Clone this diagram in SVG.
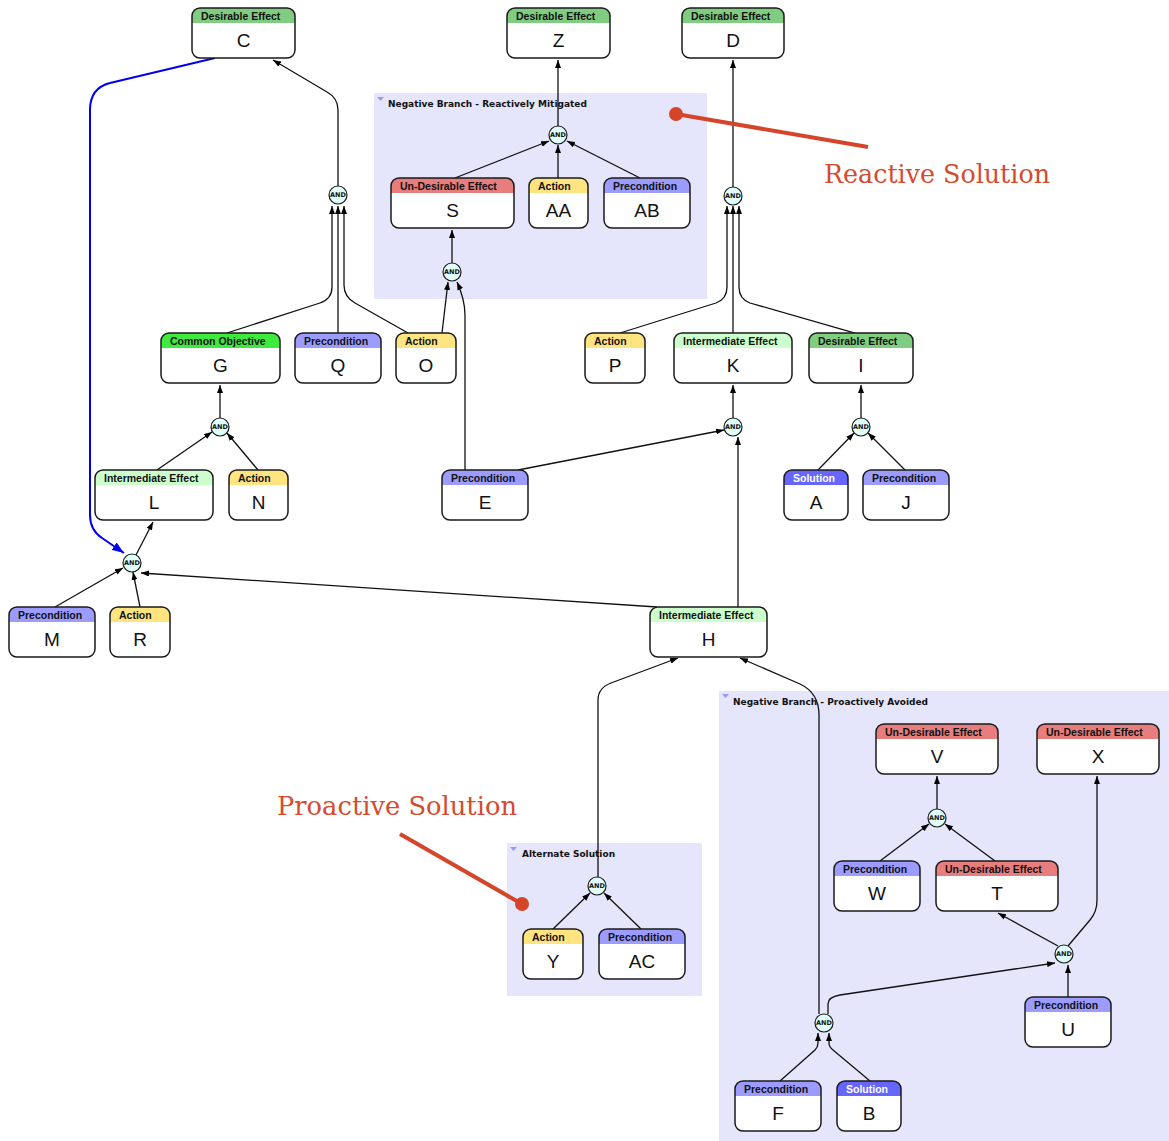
<svg xmlns="http://www.w3.org/2000/svg" width="1169" height="1141" viewBox="0 0 1169 1141">
<defs>
<marker id="arr" markerUnits="userSpaceOnUse" markerWidth="8" markerHeight="6" refX="8" refY="3" orient="auto"><path d="M0,0 L8,3 L0,6 Z" fill="#000"/></marker>
<marker id="barr" markerUnits="userSpaceOnUse" markerWidth="12" markerHeight="9" refX="12" refY="4.5" orient="auto"><path d="M0,0 L12,4.5 L0,9 Z" fill="#0000ee"/></marker>
<style>
.grp{fill:#e5e5fb}
.gl{font-family:"DejaVu Sans","Liberation Sans",sans-serif;font-weight:bold;font-size:9px;fill:#111}
.tri{fill:#9a9af0}
.box{fill:#fff}
.out{fill:none;stroke:#1a1a1a;stroke-width:1.5}
.ht{font-family:"Liberation Sans",Arial,sans-serif;font-weight:bold;font-size:10.5px;fill:#111}
.hw{fill:#fff}
.lt{font-family:"Liberation Sans",Arial,sans-serif;font-size:19px;fill:#111;text-anchor:middle}
.de{fill:#80cc80}.ud{fill:#e87d7d}.ac{fill:#ffe47f}.pr{fill:#9c9cff}.co{fill:#3eea3e}.ie{fill:#ccffcc}.so{fill:#6666ff}
.and circle{fill:#e0fffb;stroke:#1a1a1a;stroke-width:1.2}
.and text{font-family:"DejaVu Sans","Liberation Sans",sans-serif;font-weight:bold;font-size:6.5px;fill:#111;text-anchor:middle}
.e{fill:none;stroke:#111;stroke-width:1.3;marker-end:url(#arr)}
.be{fill:none;stroke:#0000ee;stroke-width:2;marker-end:url(#barr)}
.ann{font-family:"DejaVu Serif","Liberation Serif",serif;font-size:26px;fill:#d64a2e}
.rl{stroke:#d4452a;stroke-width:4;fill:none}
.rd{fill:#d4452a}
</style>
</defs>
<rect width="1169" height="1141" fill="#fff"/>

<g id="group-reactive">
<rect class="grp" x="374" y="93" width="333" height="206"/>
<path class="tri" d="M377,97 H384 L380.5,101 Z"/>
<text class="gl" x="388" y="107">Negative Branch - Reactively Mitigated</text>
</g>
<g id="group-alternate">
<rect class="grp" x="507" y="843" width="195" height="153"/>
<path class="tri" d="M510,847 H517 L513.5,851 Z"/>
<text class="gl" x="522" y="857">Alternate Solution</text>
</g>
<g id="group-proactive">
<rect class="grp" x="719" y="691" width="450" height="450"/>
<path class="tri" d="M722,694 H729 L725.5,698 Z"/>
<text class="gl" x="733" y="705">Negative Branch - Proactively Avoided</text>
</g>

<g id="connectors">
<path class="e" d="M338,186 L338,110 Q338,98 327,92 L273,60"/>
<path class="e" d="M227,333 L320,303 Q332,299 332,287 L332,206"/>
<path class="e" d="M338,333 L338,206"/>
<path class="e" d="M408,333 L355,303 Q344,297 344,285 L344,206"/>
<path class="e" d="M558,126 L558,60"/>
<path class="e" d="M455,178 L549,141"/>
<path class="e" d="M558,178 L558,145"/>
<path class="e" d="M640,178 L567,141"/>
<path class="e" d="M452,263 L452,230"/>
<path class="e" d="M442,333 L448,282"/>
<path class="e" d="M465,470 L465,315 Q465,300 457,282"/>
<path class="e" d="M733,187 L733,60"/>
<path class="e" d="M620,333 L716,303 Q727,299 727,287 L727,206"/>
<path class="e" d="M733,333 L733,206"/>
<path class="e" d="M855,333 L750,303 Q739,299 739,287 L739,206"/>
<path class="e" d="M220,418 L220,385"/>
<path class="e" d="M157,470 L212,432"/>
<path class="e" d="M258,470 L227,433"/>
<path class="e" d="M733,418 L733,385"/>
<path class="e" d="M518,470 L724,430"/>
<path class="e" d="M738,607 L738,437"/>
<path class="e" d="M861,418 L861,385"/>
<path class="e" d="M818,470 L854,433"/>
<path class="e" d="M905,470 L868,433"/>
<path class="e" d="M136,555 L153,522"/>
<path class="e" d="M55,607 L123,568"/>
<path class="e" d="M140,607 L133,572"/>
<path class="e" d="M657,607 L141,573"/>
<path class="be" d="M215,58 L110,83 Q90,88 90,110 L90,515 Q90,530 102,538 L124,553"/>
<path class="e" d="M598,877 L598,700 Q598,688 611,683 L678,658"/>
<path class="e" d="M819,1014 L819,715 Q819,693 800,684 L740,658"/>
<path class="e" d="M553,929 L590,893"/>
<path class="e" d="M641,929 L604,893"/>
<path class="e" d="M937,809 L937,776"/>
<path class="e" d="M880,861 L929,824"/>
<path class="e" d="M995,861 L945,824"/>
<path class="e" d="M1058,946 L998,913"/>
<path class="e" d="M1068,946 L1090,920 Q1097,912 1097,900 L1097,776"/>
<path class="e" d="M1068,997 L1068,965"/>
<path class="e" d="M828,1014 L828,1004 Q828,997 840,995 L1055,963"/>
<path class="e" d="M780,1081 L815,1050 Q818,1047 818,1043 L818,1033"/>
<path class="e" d="M870,1081 L833,1050 Q829,1047 829,1043 L829,1033"/>
</g>

<g id="and-C" class="and"><circle cx="338" cy="195" r="9"/><text x="338" y="197.3">AND</text></g>
<g id="and-Z" class="and"><circle cx="558" cy="135" r="9"/><text x="558" y="137.3">AND</text></g>
<g id="and-S" class="and"><circle cx="452" cy="272" r="9"/><text x="452" y="274.3">AND</text></g>
<g id="and-D" class="and"><circle cx="733" cy="196" r="9"/><text x="733" y="198.3">AND</text></g>
<g id="and-G" class="and"><circle cx="220" cy="427" r="9"/><text x="220" y="429.3">AND</text></g>
<g id="and-K" class="and"><circle cx="733" cy="427" r="9"/><text x="733" y="429.3">AND</text></g>
<g id="and-I" class="and"><circle cx="861" cy="427" r="9"/><text x="861" y="429.3">AND</text></g>
<g id="and-L" class="and"><circle cx="132" cy="563" r="9"/><text x="132" y="565.3">AND</text></g>
<g id="and-H" class="and"><circle cx="597" cy="886" r="9"/><text x="597" y="888.3">AND</text></g>
<g id="and-V" class="and"><circle cx="937" cy="818" r="9"/><text x="937" y="820.3">AND</text></g>
<g id="and-TX" class="and"><circle cx="1064" cy="954" r="9"/><text x="1064" y="956.3">AND</text></g>
<g id="and-FB" class="and"><circle cx="824" cy="1023" r="9"/><text x="824" y="1025.3">AND</text></g>

<g id="node-C"><rect class="box" x="192" y="8" width="103" height="50" rx="8"/><path class="de" d="M192,23 V16 Q192,8 200,8 H287 Q295,8 295,16 V23 Z"/><rect class="out" x="192" y="8" width="103" height="50" rx="8"/><text class="ht" x="201" y="20">Desirable Effect</text><text class="lt" x="243.5" y="47">C</text></g>
<g id="node-Z"><rect class="box" x="507" y="8" width="103" height="50" rx="8"/><path class="de" d="M507,23 V16 Q507,8 515,8 H602 Q610,8 610,16 V23 Z"/><rect class="out" x="507" y="8" width="103" height="50" rx="8"/><text class="ht" x="516" y="20">Desirable Effect</text><text class="lt" x="558.5" y="47">Z</text></g>
<g id="node-D"><rect class="box" x="682" y="8" width="102" height="50" rx="8"/><path class="de" d="M682,23 V16 Q682,8 690,8 H776 Q784,8 784,16 V23 Z"/><rect class="out" x="682" y="8" width="102" height="50" rx="8"/><text class="ht" x="691" y="20">Desirable Effect</text><text class="lt" x="733" y="47">D</text></g>
<g id="node-S"><rect class="box" x="391" y="178" width="123" height="50" rx="8"/><path class="ud" d="M391,193 V186 Q391,178 399,178 H506 Q514,178 514,186 V193 Z"/><rect class="out" x="391" y="178" width="123" height="50" rx="8"/><text class="ht" x="400" y="190">Un-Desirable Effect</text><text class="lt" x="452.5" y="217">S</text></g>
<g id="node-AA"><rect class="box" x="529" y="178" width="59" height="50" rx="8"/><path class="ac" d="M529,193 V186 Q529,178 537,178 H580 Q588,178 588,186 V193 Z"/><rect class="out" x="529" y="178" width="59" height="50" rx="8"/><text class="ht" x="538" y="190">Action</text><text class="lt" x="558.5" y="217">AA</text></g>
<g id="node-AB"><rect class="box" x="604" y="178" width="86" height="50" rx="8"/><path class="pr" d="M604,193 V186 Q604,178 612,178 H682 Q690,178 690,186 V193 Z"/><rect class="out" x="604" y="178" width="86" height="50" rx="8"/><text class="ht" x="613" y="190">Precondition</text><text class="lt" x="647" y="217">AB</text></g>
<g id="node-G"><rect class="box" x="161" y="333" width="119" height="50" rx="8"/><path class="co" d="M161,348 V341 Q161,333 169,333 H272 Q280,333 280,341 V348 Z"/><rect class="out" x="161" y="333" width="119" height="50" rx="8"/><text class="ht" x="170" y="345">Common Objective</text><text class="lt" x="220.5" y="372">G</text></g>
<g id="node-Q"><rect class="box" x="295" y="333" width="86" height="50" rx="8"/><path class="pr" d="M295,348 V341 Q295,333 303,333 H373 Q381,333 381,341 V348 Z"/><rect class="out" x="295" y="333" width="86" height="50" rx="8"/><text class="ht" x="304" y="345">Precondition</text><text class="lt" x="338" y="372">Q</text></g>
<g id="node-O"><rect class="box" x="396" y="333" width="60" height="50" rx="8"/><path class="ac" d="M396,348 V341 Q396,333 404,333 H448 Q456,333 456,341 V348 Z"/><rect class="out" x="396" y="333" width="60" height="50" rx="8"/><text class="ht" x="405" y="345">Action</text><text class="lt" x="426" y="372">O</text></g>
<g id="node-P"><rect class="box" x="585" y="333" width="60" height="50" rx="8"/><path class="ac" d="M585,348 V341 Q585,333 593,333 H637 Q645,333 645,341 V348 Z"/><rect class="out" x="585" y="333" width="60" height="50" rx="8"/><text class="ht" x="594" y="345">Action</text><text class="lt" x="615" y="372">P</text></g>
<g id="node-K"><rect class="box" x="674" y="333" width="118" height="50" rx="8"/><path class="ie" d="M674,348 V341 Q674,333 682,333 H784 Q792,333 792,341 V348 Z"/><rect class="out" x="674" y="333" width="118" height="50" rx="8"/><text class="ht" x="683" y="345">Intermediate Effect</text><text class="lt" x="733" y="372">K</text></g>
<g id="node-I"><rect class="box" x="809" y="333" width="104" height="50" rx="8"/><path class="de" d="M809,348 V341 Q809,333 817,333 H905 Q913,333 913,341 V348 Z"/><rect class="out" x="809" y="333" width="104" height="50" rx="8"/><text class="ht" x="818" y="345">Desirable Effect</text><text class="lt" x="861" y="372">I</text></g>
<g id="node-L"><rect class="box" x="95" y="470" width="118" height="50" rx="8"/><path class="ie" d="M95,485 V478 Q95,470 103,470 H205 Q213,470 213,478 V485 Z"/><rect class="out" x="95" y="470" width="118" height="50" rx="8"/><text class="ht" x="104" y="482">Intermediate Effect</text><text class="lt" x="154" y="509">L</text></g>
<g id="node-N"><rect class="box" x="229" y="470" width="59" height="50" rx="8"/><path class="ac" d="M229,485 V478 Q229,470 237,470 H280 Q288,470 288,478 V485 Z"/><rect class="out" x="229" y="470" width="59" height="50" rx="8"/><text class="ht" x="238" y="482">Action</text><text class="lt" x="258.5" y="509">N</text></g>
<g id="node-E"><rect class="box" x="442" y="470" width="86" height="50" rx="8"/><path class="pr" d="M442,485 V478 Q442,470 450,470 H520 Q528,470 528,478 V485 Z"/><rect class="out" x="442" y="470" width="86" height="50" rx="8"/><text class="ht" x="451" y="482">Precondition</text><text class="lt" x="485" y="509">E</text></g>
<g id="node-A"><rect class="box" x="784" y="470" width="64" height="50" rx="8"/><path class="so" d="M784,485 V478 Q784,470 792,470 H840 Q848,470 848,478 V485 Z"/><rect class="out" x="784" y="470" width="64" height="50" rx="8"/><text class="ht hw" x="793" y="482">Solution</text><text class="lt" x="816" y="509">A</text></g>
<g id="node-J"><rect class="box" x="863" y="470" width="86" height="50" rx="8"/><path class="pr" d="M863,485 V478 Q863,470 871,470 H941 Q949,470 949,478 V485 Z"/><rect class="out" x="863" y="470" width="86" height="50" rx="8"/><text class="ht" x="872" y="482">Precondition</text><text class="lt" x="906" y="509">J</text></g>
<g id="node-M"><rect class="box" x="9" y="607" width="86" height="50" rx="8"/><path class="pr" d="M9,622 V615 Q9,607 17,607 H87 Q95,607 95,615 V622 Z"/><rect class="out" x="9" y="607" width="86" height="50" rx="8"/><text class="ht" x="18" y="619">Precondition</text><text class="lt" x="52" y="646">M</text></g>
<g id="node-R"><rect class="box" x="110" y="607" width="60" height="50" rx="8"/><path class="ac" d="M110,622 V615 Q110,607 118,607 H162 Q170,607 170,615 V622 Z"/><rect class="out" x="110" y="607" width="60" height="50" rx="8"/><text class="ht" x="119" y="619">Action</text><text class="lt" x="140" y="646">R</text></g>
<g id="node-H"><rect class="box" x="650" y="607" width="117" height="50" rx="8"/><path class="ie" d="M650,622 V615 Q650,607 658,607 H759 Q767,607 767,615 V622 Z"/><rect class="out" x="650" y="607" width="117" height="50" rx="8"/><text class="ht" x="659" y="619">Intermediate Effect</text><text class="lt" x="708.5" y="646">H</text></g>
<g id="node-V"><rect class="box" x="876" y="724" width="122" height="50" rx="8"/><path class="ud" d="M876,739 V732 Q876,724 884,724 H990 Q998,724 998,732 V739 Z"/><rect class="out" x="876" y="724" width="122" height="50" rx="8"/><text class="ht" x="885" y="736">Un-Desirable Effect</text><text class="lt" x="937" y="763">V</text></g>
<g id="node-X"><rect class="box" x="1037" y="724" width="122" height="50" rx="8"/><path class="ud" d="M1037,739 V732 Q1037,724 1045,724 H1151 Q1159,724 1159,732 V739 Z"/><rect class="out" x="1037" y="724" width="122" height="50" rx="8"/><text class="ht" x="1046" y="736">Un-Desirable Effect</text><text class="lt" x="1098" y="763">X</text></g>
<g id="node-W"><rect class="box" x="834" y="861" width="86" height="50" rx="8"/><path class="pr" d="M834,876 V869 Q834,861 842,861 H912 Q920,861 920,869 V876 Z"/><rect class="out" x="834" y="861" width="86" height="50" rx="8"/><text class="ht" x="843" y="873">Precondition</text><text class="lt" x="877" y="900">W</text></g>
<g id="node-T"><rect class="box" x="936" y="861" width="122" height="50" rx="8"/><path class="ud" d="M936,876 V869 Q936,861 944,861 H1050 Q1058,861 1058,869 V876 Z"/><rect class="out" x="936" y="861" width="122" height="50" rx="8"/><text class="ht" x="945" y="873">Un-Desirable Effect</text><text class="lt" x="997" y="900">T</text></g>
<g id="node-Y"><rect class="box" x="523" y="929" width="60" height="50" rx="8"/><path class="ac" d="M523,944 V937 Q523,929 531,929 H575 Q583,929 583,937 V944 Z"/><rect class="out" x="523" y="929" width="60" height="50" rx="8"/><text class="ht" x="532" y="941">Action</text><text class="lt" x="553" y="968">Y</text></g>
<g id="node-AC"><rect class="box" x="599" y="929" width="86" height="50" rx="8"/><path class="pr" d="M599,944 V937 Q599,929 607,929 H677 Q685,929 685,937 V944 Z"/><rect class="out" x="599" y="929" width="86" height="50" rx="8"/><text class="ht" x="608" y="941">Precondition</text><text class="lt" x="642" y="968">AC</text></g>
<g id="node-U"><rect class="box" x="1025" y="997" width="86" height="50" rx="8"/><path class="pr" d="M1025,1012 V1005 Q1025,997 1033,997 H1103 Q1111,997 1111,1005 V1012 Z"/><rect class="out" x="1025" y="997" width="86" height="50" rx="8"/><text class="ht" x="1034" y="1009">Precondition</text><text class="lt" x="1068" y="1036">U</text></g>
<g id="node-F"><rect class="box" x="735" y="1081" width="86" height="50" rx="8"/><path class="pr" d="M735,1096 V1089 Q735,1081 743,1081 H813 Q821,1081 821,1089 V1096 Z"/><rect class="out" x="735" y="1081" width="86" height="50" rx="8"/><text class="ht" x="744" y="1093">Precondition</text><text class="lt" x="778" y="1120">F</text></g>
<g id="node-B"><rect class="box" x="837" y="1081" width="64" height="50" rx="8"/><path class="so" d="M837,1096 V1089 Q837,1081 845,1081 H893 Q901,1081 901,1089 V1096 Z"/><rect class="out" x="837" y="1081" width="64" height="50" rx="8"/><text class="ht hw" x="846" y="1093">Solution</text><text class="lt" x="869" y="1120">B</text></g>

<g id="annotation-reactive">
<line class="rl" x1="676" y1="114" x2="868" y2="147"/>
<circle class="rd" cx="676" cy="114" r="7"/>
<text class="ann" x="824" y="183" textLength="226" lengthAdjust="spacingAndGlyphs">Reactive Solution</text>
</g>
<g id="annotation-proactive">
<line class="rl" x1="400" y1="834" x2="522" y2="904"/>
<circle class="rd" cx="522" cy="904" r="7"/>
<text class="ann" x="277" y="815" textLength="240" lengthAdjust="spacingAndGlyphs">Proactive Solution</text>
</g>
</svg>
